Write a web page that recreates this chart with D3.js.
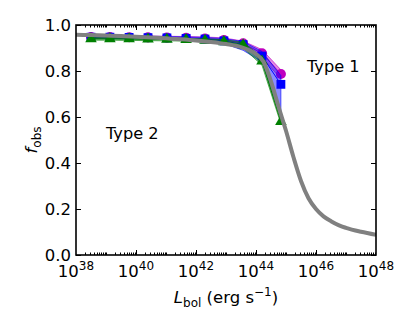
<!DOCTYPE html>
<html>
<head>
<meta charset="utf-8">
<script src="https://cdn.jsdelivr.net/npm/d3@7"></script>
<style>
  body { margin: 0; background: #fff; }
  text { font-family: "DejaVu Sans", sans-serif; }
</style>
</head>
<body>
<svg id="chart" width="415" height="332"></svg>
<script>
// log10 of L_bol for the binned points
var logL = [38.5, 39.13, 39.77, 40.4, 41.03, 41.67, 42.3, 42.93, 43.57, 44.2, 44.83];
// fraction observed, three samples
var magentaF  = [0.948, 0.948, 0.947, 0.946, 0.945, 0.944, 0.941, 0.935, 0.920, 0.877, 0.787];
var magentaLo = [0.942, 0.942, 0.941, 0.940, 0.939, 0.938, 0.934, 0.926, 0.905, 0.860, 0.765];
var magentaHi = [0.954, 0.954, 0.953, 0.952, 0.951, 0.950, 0.948, 0.944, 0.930, 0.893, 0.805];
var blueF  = [0.947, 0.947, 0.946, 0.945, 0.944, 0.942, 0.939, 0.931, 0.915, 0.865, 0.742];
var blueLo = [0.941, 0.941, 0.940, 0.939, 0.938, 0.935, 0.931, 0.919, 0.890, 0.840, 0.590];
var blueHi = [0.953, 0.953, 0.952, 0.951, 0.950, 0.948, 0.946, 0.941, 0.928, 0.885, 0.780];
var greenF  = [0.940, 0.940, 0.939, 0.938, 0.937, 0.936, 0.933, 0.927, 0.913, 0.843, 0.580];
var greenLo = [0.934, 0.934, 0.933, 0.932, 0.931, 0.930, 0.927, 0.918, 0.900, 0.825, 0.570];
var greenHi = [0.946, 0.946, 0.945, 0.944, 0.943, 0.942, 0.940, 0.936, 0.925, 0.860, 0.595];
// model curve (gray)
var modelLogL = [38, 38.5, 39, 39.5, 40, 40.5, 41, 41.5, 42, 42.5, 43, 43.5, 43.75, 44, 44.25, 44.5, 44.75, 45, 45.25, 45.5, 45.75, 46, 46.25, 46.5, 46.75, 47, 47.5, 48];
var modelF    = [0.958, 0.956, 0.954, 0.952, 0.949, 0.946, 0.942, 0.938, 0.933, 0.926, 0.917, 0.904, 0.892, 0.874, 0.840, 0.755, 0.645, 0.540, 0.425, 0.322, 0.247, 0.200, 0.168, 0.147, 0.130, 0.118, 0.101, 0.088];

var yTicks = [0, 0.2, 0.4, 0.6, 0.8, 1.0];
var xLabelExp = [38, 40, 42, 44, 46, 48];

var svg = d3.select("#chart");
var pL = 76, pR = 376, pT = 25, pB = 255;

var x = d3.scaleLog().domain([1e38, 1e48]).range([pL, pR]);
var y = d3.scaleLinear().domain([0, 1]).range([pB, pT]);

var plot = svg.append("g");
plot.append("clipPath").attr("id", "clip")
  .append("rect").attr("x", pL).attr("y", pT).attr("width", pR - pL).attr("height", pB - pT);
var inner = plot.append("g").attr("clip-path", "url(#clip)");

var series = [
  { f: magentaF, lo: magentaLo, hi: magentaHi, color: "#bf00bf", shape: d3.symbolCircle, size: 80 },
  { f: blueF, lo: blueLo, hi: blueHi, color: "#0000ff", shape: d3.symbolSquare, size: 78 },
  { f: greenF, lo: greenLo, hi: greenHi, color: "#008000", shape: d3.symbolTriangle, size: 58 }
];

series.forEach(function(s) {
  var pts = logL.map(function(l, i) { return { l: l, f: s.f[i], lo: s.lo[i], hi: s.hi[i] }; });
  inner.append("path")
    .datum(pts)
    .attr("fill", s.color)
    .attr("fill-opacity", 0.45)
    .attr("stroke", s.color)
    .attr("stroke-opacity", 0.6)
    .attr("stroke-width", 1)
    .attr("d", d3.area()
      .x(function(d) { return x(Math.pow(10, d.l)); })
      .y0(function(d) { return y(d.lo); })
      .y1(function(d) { return y(d.hi); }));
  inner.append("path")
    .datum(pts)
    .attr("fill", "none")
    .attr("stroke", s.color)
    .attr("stroke-width", 1)
    .attr("d", d3.line()
      .x(function(d) { return x(Math.pow(10, d.l)); })
      .y(function(d) { return y(d.f); }));
  inner.selectAll(null)
    .data(pts)
    .enter().append("path")
    .attr("transform", function(d) { return "translate(" + x(Math.pow(10, d.l)) + "," + y(d.f) + ")"; })
    .attr("fill", s.color)
    .attr("d", d3.symbol().type(s.shape).size(s.size));
});

inner.append("path")
  .datum(modelLogL.map(function(l, i) { return { l: l, f: modelF[i] }; }))
  .attr("fill", "none")
  .attr("stroke", "#808080")
  .attr("stroke-width", 4)
  .attr("stroke-linejoin", "round")
  .attr("d", d3.line()
    .curve(d3.curveMonotoneX)
    .x(function(d) { return x(Math.pow(10, d.l)); })
    .y(function(d) { return y(d.f); }));

// ticks, pointing inward on all four sides
var ticks = svg.append("g").attr("stroke", "#000").attr("stroke-width", 1);
for (var e = 38; e < 48; e++) {
  for (var k = 1; k < 10; k++) {
    if (k === 1 && e === 38) continue;
    var v = k * Math.pow(10, e);
    var major = (k === 1 && e % 2 === 0);
    var len = major ? 5 : 2.5;
    var xp = Math.round(x(v)) + 0.5;
    ticks.append("line").attr("x1", xp).attr("x2", xp).attr("y1", pB).attr("y2", pB - len);
    ticks.append("line").attr("x1", xp).attr("x2", xp).attr("y1", pT).attr("y2", pT + len);
  }
}
yTicks.forEach(function(t) {
  var yp = Math.round(y(t)) + 0.5;
  ticks.append("line").attr("x1", pL).attr("x2", pL + 5).attr("y1", yp).attr("y2", yp);
  ticks.append("line").attr("x1", pR).attr("x2", pR - 5).attr("y1", yp).attr("y2", yp);
});

svg.append("rect")
  .attr("x", pL).attr("y", pT).attr("width", pR - pL).attr("height", pB - pT)
  .attr("fill", "none").attr("stroke", "#000").attr("stroke-width", 1.6);

// tick labels
svg.selectAll(".ylab").data(yTicks).enter().append("text")
  .attr("x", pL - 5).attr("y", function(d) { return y(d) + 6; })
  .attr("text-anchor", "end").attr("font-size", 16.5)
  .text(function(d) { return d.toFixed(1); });

xLabelExp.forEach(function(p) {
  var t = svg.append("text")
    .attr("x", x(Math.pow(10, p))).attr("y", 277)
    .attr("text-anchor", "middle").attr("font-size", 16.5);
  t.append("tspan").text("10");
  t.append("tspan").attr("font-size", 12).attr("dy", -7.5).text(p);
});

// axis titles
var xt = svg.append("text").attr("x", 226).attr("y", 303).attr("text-anchor", "middle").attr("font-size", 16.5);
xt.append("tspan").attr("font-style", "italic").text("L");
xt.append("tspan").attr("font-size", 12).attr("dy", 3.5).text("bol");
xt.append("tspan").attr("dy", -3.5).text(" (erg s");
xt.append("tspan").attr("font-size", 12).attr("dy", -7).text("\u22121");
xt.append("tspan").attr("dy", 7).text(")");

var yt = svg.append("text").attr("transform", "translate(37,140) rotate(-90)")
  .attr("text-anchor", "middle").attr("font-size", 16.5);
yt.append("tspan").attr("font-style", "italic").text("f");
yt.append("tspan").attr("font-size", 12).attr("dy", 3.5).text("obs");

svg.append("text").attr("x", 307).attr("y", 72).attr("font-size", 16.2).text("Type 1");
svg.append("text").attr("x", 106).attr("y", 139).attr("font-size", 16.2).text("Type 2");
</script>
</body>
</html>
